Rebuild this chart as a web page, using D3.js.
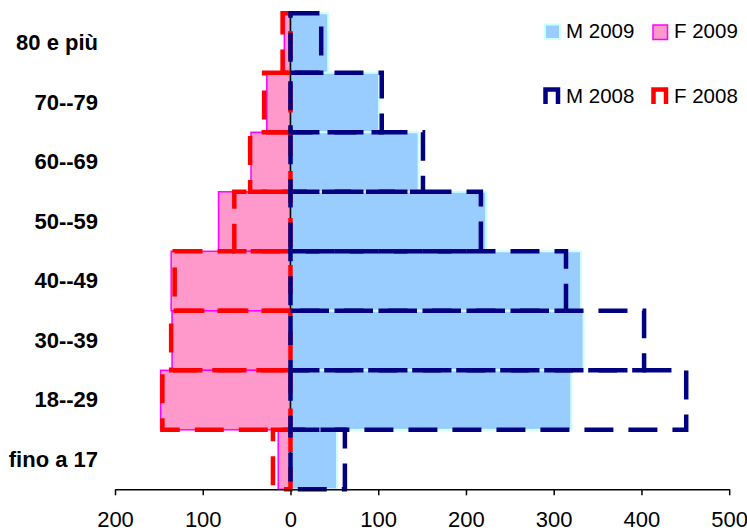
<!DOCTYPE html>
<html>
<head>
<meta charset="utf-8">
<script src="https://cdn.jsdelivr.net/npm/d3@7"></script>
<style>
  html, body { margin: 0; padding: 0; background: #fff; }
  svg { display: block; font-family: "Liberation Sans", Arial, sans-serif; }
</style>
</head>
<body>
<svg id="chart" width="747" height="531"></svg>
<script>
// ---- data ----
const categories = ["80 e più", "70--79", "60--69", "50--59", "40--49", "30--39", "18--29", "fino a 17"];
const m2009 = [43, 101, 146, 223, 331, 334, 320, 53];
const f2009 = [7, 27, 45, 82, 136, 135, 148, 14];
const m2008 = [35, 104, 151, 217, 314, 403, 451, 62];
const f2008 = [9, 30, 46, 64, 132, 136, 146, 20];
const tickValues = [-200, -100, 0, 100, 200, 300, 400, 500];
const tickLabels = ["200", "100", "0", "100", "200", "300", "400", "500"];
const seriesNames = ["M 2009", "F 2009", "M 2008", "F 2008"];

// ---- layout ----
const svg = d3.select("#chart");
const x = d3.scaleLinear().domain([-200, 500]).range([115, 729.2]);
const y = d3.scaleBand().domain(categories).range([13.3, 489.3]).padding(0);
const bw = y.bandwidth();

const C = {
  mFill: "#99CCFF", mEdge: "#CCFFFF",
  fFill: "#FF99CC", fEdge: "#FF00FF",
  m08: "#000080", f08: "#FF0000"
};

// filled bars 2009
svg.append("g").selectAll("rect").data(categories).join("rect")
  .attr("x", x(0))
  .attr("y", d => y(d))
  .attr("width", (d, i) => x(m2009[i]) - x(0))
  .attr("height", bw)
  .attr("fill", C.mFill).attr("stroke", C.mEdge).attr("stroke-width", 2);

svg.append("g").selectAll("rect").data(categories).join("rect")
  .attr("x", (d, i) => x(-f2009[i]))
  .attr("y", d => y(d))
  .attr("width", (d, i) => x(0) - x(-f2009[i]))
  .attr("height", bw)
  .attr("fill", C.fFill).attr("stroke", C.fEdge).attr("stroke-width", 1.5);

// category axis at zero
const catAxis = svg.append("g");
catAxis.append("line")
  .attr("x1", x(0)).attr("x2", x(0))
  .attr("y1", y.range()[0]).attr("y2", y.range()[1])
  .attr("stroke", "#000").attr("stroke-width", 1.5);
const bounds = categories.map(c => y(c)).concat([y.range()[1]]);
catAxis.selectAll("line.t").data(bounds).join("line").attr("class", "t")
  .attr("x1", x(0) - 5).attr("x2", x(0))
  .attr("y1", d => d).attr("y2", d => d)
  .attr("stroke", "#000").attr("stroke-width", 1.5);

// dashed outlines 2008
const dash = "29,15";
svg.append("g").selectAll("path").data(categories).join("path")
  .attr("d", (d, i) => {
    const t = y(d), b = y(d) + bw, x0 = x(0), xv = x(-f2008[i]);
    return `M${x0},${t}H${xv}V${b}H${x0}Z`;
  })
  .attr("fill", "none").attr("stroke", C.f08).attr("stroke-width", 4.5)
  .attr("stroke-dasharray", dash);

svg.append("g").selectAll("path").data(categories).join("path")
  .attr("d", (d, i) => {
    const t = y(d), b = y(d) + bw, x0 = x(0), xv = x(m2008[i]);
    return `M${x0},${t}H${xv}V${b}H${x0}Z`;
  })
  .attr("fill", "none").attr("stroke", C.m08).attr("stroke-width", 4.5)
  .attr("stroke-dasharray", dash);

// category labels
svg.append("g").selectAll("text").data(categories).join("text")
  .attr("x", 98)
  .attr("y", d => y(d) + bw / 2 + 7)
  .attr("text-anchor", "end")
  .attr("font-size", 22).attr("font-weight", "bold")
  .attr("fill", "#000")
  .text(d => d);

// bottom value axis
const xAxis = d3.axisBottom(x)
  .tickValues(tickValues)
  .tickFormat((d, i) => tickLabels[i])
  .tickSize(6).tickSizeOuter(0).tickPadding(16);
const gx = svg.append("g").attr("transform", `translate(0,${y.range()[1]})`).call(xAxis);
gx.select(".domain").attr("stroke", "#000").attr("stroke-width", 1.5);
gx.selectAll(".tick line").attr("stroke", "#000").attr("stroke-width", 1.5);
gx.selectAll(".tick text")
  .attr("font-size", 22).attr("font-family", "Liberation Sans, Arial, sans-serif")
  .attr("fill", "#000");

// legend
const leg = svg.append("g").attr("font-size", 20.5).attr("fill", "#000");
leg.append("rect").attr("x", 545).attr("y", 24.5).attr("width", 15).attr("height", 14.5)
  .attr("fill", C.mFill).attr("stroke", C.mEdge).attr("stroke-width", 2);
leg.append("text").attr("x", 566).attr("y", 38).text(seriesNames[0]);
leg.append("rect").attr("x", 653).attr("y", 25).attr("width", 14.5).attr("height", 14.5)
  .attr("fill", C.fFill).attr("stroke", C.fEdge).attr("stroke-width", 1.5);
leg.append("text").attr("x", 674).attr("y", 38).text(seriesNames[1]);

leg.append("path").attr("d", "M545.5,104V89.5H558V104")
  .attr("fill", "none").attr("stroke", C.m08).attr("stroke-width", 4.5);
leg.append("text").attr("x", 566).attr("y", 103).text(seriesNames[2]);
leg.append("path").attr("d", "M653.5,104V89.5H666V104")
  .attr("fill", "none").attr("stroke", C.f08).attr("stroke-width", 4.5);
leg.append("text").attr("x", 674).attr("y", 103).text(seriesNames[3]);
</script>
</body>
</html>
